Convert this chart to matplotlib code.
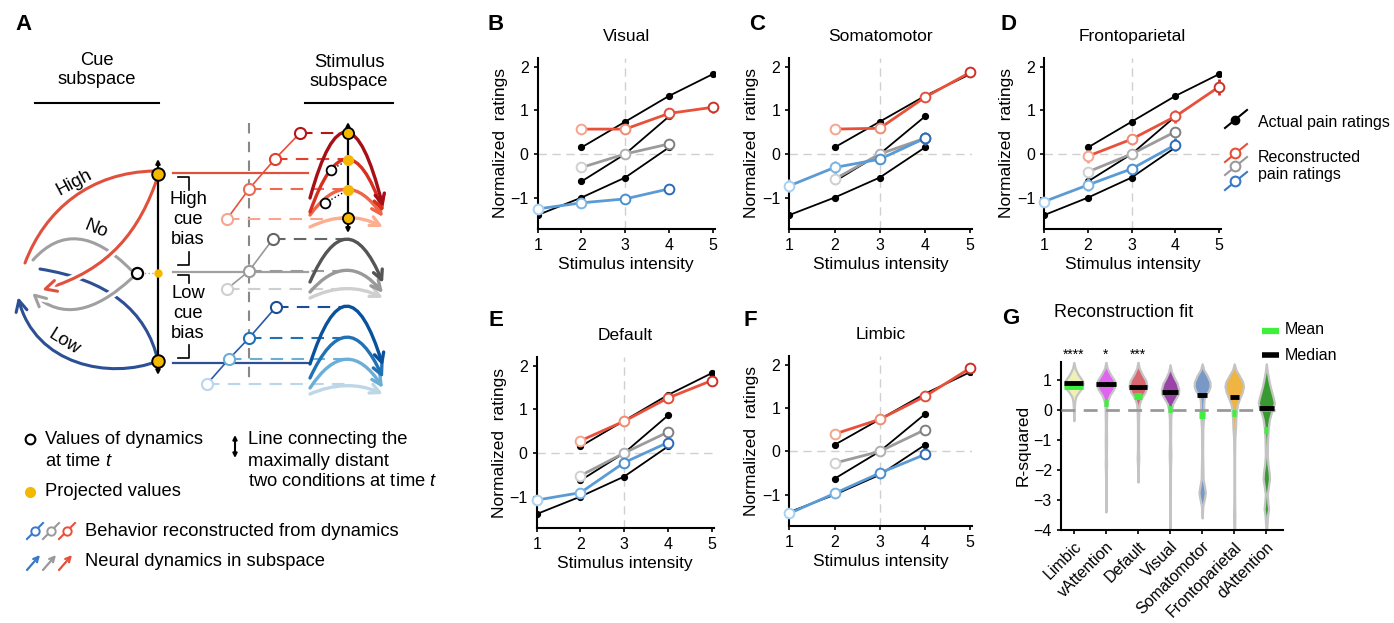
import numpy as np
import matplotlib
matplotlib.use("Agg")
import matplotlib.pyplot as plt
from matplotlib.path import Path
from matplotlib.patches import FancyArrowPatch
import matplotlib.patheffects as pe

plt.rcParams['font.family'] = ['Liberation Sans', 'DejaVu Sans']
plt.rcParams['mathtext.fontset'] = 'custom'
plt.rcParams['mathtext.it'] = 'Liberation Sans:italic'
plt.rcParams['mathtext.rm'] = 'Liberation Sans'

W, H = 1394, 623

# ---------------- data: panels B-F ----------------
intensity = [1, 2, 3, 4, 5]
# actual pain ratings (same in every panel)
actual_high_x = [2, 3, 4, 5]
actual_high = [0.15, 0.74, 1.33, 1.83]
actual_no_x = [2, 3, 4]
actual_no = [-0.63, 0.0, 0.86]
actual_low_x = [1, 2, 3, 4]
actual_low = [-1.40, -1.0, -0.54, 0.15]

high_x = [2, 3, 4, 5]
no_x = [2, 3, 4]
low_x = [1, 2, 3, 4]

networks_line = ['Visual', 'Somatomotor', 'Frontoparietal', 'Default', 'Limbic']
recon_high = {'Visual': [0.57, 0.57, 0.93, 1.07],
              'Somatomotor': [0.57, 0.59, 1.30, 1.87],
              'Frontoparietal': [-0.05, 0.34, 0.86, 1.54],
              'Default': [0.28, 0.73, 1.26, 1.66],
              'Limbic': [0.40, 0.74, 1.27, 1.92]}
recon_high_err = {'Visual': [0.12, 0.12, 0.13, 0.12],
                  'Somatomotor': [0.1, 0.1, 0.08, 0.08],
                  'Frontoparietal': [0.15, 0.12, 0.15, 0.18],
                  'Default': [0.08, 0.08, 0.05, 0.05],
                  'Limbic': [0.03, 0.03, 0.03, 0.03]}
recon_no = {'Visual': [-0.31, 0.0, 0.23],
            'Somatomotor': [-0.58, 0.0, 0.36],
            'Frontoparietal': [-0.41, 0.0, 0.51],
            'Default': [-0.52, 0.0, 0.48],
            'Limbic': [-0.27, 0.0, 0.50]}
recon_no_err = {'Visual': [0.03, 0.03, 0.03],
                'Somatomotor': [0.03, 0.03, 0.03],
                'Frontoparietal': [0.04, 0.04, 0.04],
                'Default': [0.03, 0.03, 0.03],
                'Limbic': [0.02, 0.02, 0.02]}
recon_low = {'Visual': [-1.26, -1.12, -1.03, -0.80],
             'Somatomotor': [-0.73, -0.31, -0.12, 0.36],
             'Frontoparietal': [-1.09, -0.71, -0.34, 0.21],
             'Default': [-1.08, -0.91, -0.22, 0.24],
             'Limbic': [-1.43, -0.97, -0.50, -0.07]}
recon_low_err = {'Visual': [0.08, 0.08, 0.08, 0.08],
                 'Somatomotor': [0.15, 0.15, 0.1, 0.15],
                 'Frontoparietal': [0.1, 0.15, 0.1, 0.15],
                 'Default': [0.1, 0.1, 0.1, 0.1],
                 'Limbic': [0.03, 0.03, 0.03, 0.03]}

# ---------------- data: panel G ----------------
g_networks = ['Limbic', 'vAttention', 'Default', 'Visual', 'Somatomotor',
              'Frontoparietal', 'dAttention']
g_colors = ['#eef0b8', '#e064f0', '#d8666e', '#9a44a8', '#7898c8', '#f0b440', '#3a9a32']
g_median = [0.90, 0.86, 0.79, 0.62, 0.51, 0.43, 0.09]
g_mean = [0.81, 0.23, 0.46, 0.03, -0.16, -0.08, -0.66]
g_median_hw = [0.30, 0.30, 0.28, 0.26, 0.15, 0.14, 0.24]
g_mean_hw = [0.30, 0.07, 0.11, 0.06, 0.09, 0.07, 0.06]
g_stars = ['****', '*', '***', '', '', '', '']
g_prof_y = [
    [1.6, 1.4, 1.2, 1.0, 0.9, 0.75, 0.6, 0.45, 0.3, 0.1, -0.35],
    [1.62, 1.4, 1.2, 1.0, 0.85, 0.7, 0.5, 0.3, 0.1, -0.5, -1.0, -1.5, -1.8, -2.1, -3.4],
    [1.62, 1.4, 1.2, 1.0, 0.8, 0.6, 0.4, 0.2, 0.0, -0.5, -1.3, -1.6, -1.9, -2.4],
    [1.52, 1.3, 1.1, 0.9, 0.7, 0.55, 0.4, 0.2, 0.0, -0.3, -1.0, -1.5, -2.0, -4.0],
    [1.55, 1.35, 1.15, 0.95, 0.8, 0.65, 0.5, 0.35, 0.2, 0.0, -0.3, -0.6, -1.5, -2.3,
     -2.6, -2.75, -2.9, -3.2, -3.6],
    [1.55, 1.35, 1.15, 0.95, 0.8, 0.6, 0.4, 0.2, 0.0, -0.3, -0.6, -0.9, -1.5, -3.0, -3.5, -4.0],
    [1.55, 1.3, 1.0, 0.8, 0.6, 0.4, 0.25, 0.1, -0.1, -0.3, -0.6, -1.0, -1.5, -1.8, -2.1,
     -2.3, -2.5, -2.8, -3.1, -3.3, -3.5, -4.0]]
g_prof_w = [
    [0.0, 0.04, 0.13, 0.26, 0.29, 0.26, 0.15, 0.06, 0.03, 0.015, 0.0],
    [0, 0.04, 0.14, 0.26, 0.30, 0.24, 0.12, 0.05, 0.025, 0.015, 0.02, 0.015, 0.02, 0.012, 0],
    [0, 0.04, 0.13, 0.24, 0.28, 0.22, 0.10, 0.04, 0.025, 0.015, 0.015, 0.025, 0.012, 0],
    [0, 0.04, 0.12, 0.22, 0.27, 0.26, 0.18, 0.08, 0.04, 0.02, 0.015, 0.025, 0.012, 0.008],
    [0, 0.05, 0.16, 0.24, 0.25, 0.20, 0.10, 0.06, 0.05, 0.05, 0.04, 0.02, 0.015, 0.03,
     0.08, 0.10, 0.08, 0.02, 0],
    [0, 0.05, 0.16, 0.26, 0.29, 0.25, 0.17, 0.10, 0.07, 0.05, 0.04, 0.02, 0.012, 0.012, 0.02, 0.012],
    [0, 0.03, 0.08, 0.12, 0.17, 0.22, 0.25, 0.22, 0.15, 0.10, 0.06, 0.04, 0.03, 0.05, 0.09,
     0.10, 0.07, 0.03, 0.05, 0.07, 0.04, 0.01]]

# ---------------- colours ----------------
RED, GRAY, BLUE = '#e8503a', '#9b9b9b', '#5b9bd5'
red_shades = ['#f5a48e', '#f08a72', '#e0503c', '#cc3328']
gray_shades = ['#d0d0d0', '#b0b0b0', '#808080']
blue_shades = ['#a8d0f0', '#7ab4e4', '#4a90d0', '#2a6cb8']

fig = plt.figure(figsize=(W / 100, H / 100), dpi=100)


def px_axes(l, t, r, b):
    return fig.add_axes([l / W, 1 - b / H, (r - l) / W, (b - t) / H])


def style(ax):
    for s in ['top', 'right']:
        ax.spines[s].set_visible(False)
    for s in ['left', 'bottom']:
        ax.spines[s].set_linewidth(1.5)
    ax.tick_params(labelsize=11.5, length=3, width=1.2)


def line_panel(ax, net):
    style(ax)
    ax.axvline(3, color='#d0d0d0', lw=1, ls=(0, (6, 4)), zorder=0)
    ax.axhline(0, color='#d0d0d0', lw=1, ls=(0, (6, 4)), zorder=0)
    for xs, ys in [(actual_high_x, actual_high), (actual_no_x, actual_no), (actual_low_x, actual_low)]:
        ax.plot(xs, ys, color='black', lw=1.3, marker='o', ms=4.2, zorder=2)
    for xs, ys, es, col, shades in [(no_x, recon_no[net], recon_no_err[net], GRAY, gray_shades),
                                    (low_x, recon_low[net], recon_low_err[net], BLUE, blue_shades),
                                    (high_x, recon_high[net], recon_high_err[net], RED, red_shades)]:
        ax.plot(xs, ys, color=col, lw=2, zorder=3)
        for xi, yi, ei, c in zip(xs, ys, es, shades):
            ax.errorbar(xi, yi, yerr=ei, fmt='o', mfc='white', mec=c, ecolor=c, ms=7,
                        mew=1.4, elinewidth=2, capsize=0, zorder=4, clip_on=False)
    ax.set_xlim(1, 5.04)
    ax.set_ylim(-1.72, 2.2)
    ax.set_xticks(intensity)
    ax.set_yticks([-1, 0, 1, 2])
    ax.set_yticklabels(['\u22121', '0', '1', '2'])
    ax.set_title(net, fontsize=12.5, pad=12)
    ax.set_xlabel('Stimulus intensity', fontsize=12.5, labelpad=3)
    ax.set_ylabel('Normalized  ratings', fontsize=12.5, labelpad=2)


axB = px_axes(537.7, 58, 714.5, 229)
axC = px_axes(789.3, 58, 972.0, 229)
axD = px_axes(1044.3, 58, 1220.8, 229)
axE = px_axes(536.7, 357, 713.5, 528)
axF = px_axes(789.3, 356, 972.0, 526)
for ax, net in zip([axB, axC, axD, axE, axF], networks_line):
    line_panel(ax, net)

# ---------------- panel G ----------------
axG = px_axes(1061, 361.7, 1283, 530)
style(axG)
pos = np.arange(len(g_networks))
for p, col, yy, ww in zip(pos, g_colors, g_prof_y, g_prof_w):
    yy = np.array(yy)
    ww = np.array(ww)
    axG.fill_betweenx(yy, p - ww, p + ww, facecolor=col, edgecolor='#c4c4c4', lw=1.6, zorder=2)
axG.axhline(0, color='#999999', lw=2, ls=(0, (5, 3)), zorder=3)
for p, m, hw in zip(pos, g_mean, g_mean_hw):
    axG.plot([p - hw, p + hw], [m, m], color='#3cf03c', lw=5, solid_capstyle='butt', zorder=4)
for p, m, hw in zip(pos, g_median, g_median_hw):
    axG.plot([p - hw, p + hw], [m, m], color='black', lw=3.5, solid_capstyle='butt', zorder=5)
for p, s in zip(pos, g_stars):
    if s:
        axG.text(p, 1.85, s, ha='center', va='center', fontsize=10, clip_on=False)
axG.set_xlim(-0.4, 6.52)
axG.set_ylim(-4, 1.62)
axG.set_yticks([-4, -3, -2, -1, 0, 1])
axG.set_yticklabels(['\u22124', '\u22123', '\u22122', '\u22121', '0', '1'])
axG.set_xticks(pos)
axG.set_xticklabels(g_networks, rotation=45, ha='right', rotation_mode='anchor')
axG.set_ylabel('R-squared', fontsize=12.5, labelpad=2)
axG.text(-0.03, 1.29, 'Reconstruction fit', transform=axG.transAxes, fontsize=13,
         ha='left', va='center')

# ---------------- overlay: panel A, labels, legends ----------------
ov = fig.add_axes([0, 0, 1, 1])
ov.set_xlim(0, W)
ov.set_ylim(H, 0)
ov.axis('off')

for lab, (x, y) in zip('ABCDEFG', [(23, 24), (496, 24), (757, 24), (1008, 24),
                                   (496, 320), (750, 320), (1011, 318)]):
    ov.text(x, y, lab, fontsize=16, fontweight='bold', ha='center', va='center')

FS = 13.2
ov.text(97, 70, 'Cue\nsubspace', ha='center', va='center', fontsize=FS, linespacing=1.1)
ov.text(349, 72, 'Stimulus\nsubspace', ha='center', va='center', fontsize=FS, linespacing=1.1)
ov.plot([35, 159], [103, 103], color='black', lw=1.5)
ov.plot([305, 393], [103, 103], color='black', lw=1.5)

A_RED, A_GRAY, A_BLUE = '#e0503c', '#a0a0a0', '#2d4f94'
M3 = [Path.MOVETO, Path.CURVE3, Path.CURVE3]
M4 = [Path.MOVETO, Path.CURVE4, Path.CURVE4, Path.CURVE4]
halo = [pe.withStroke(linewidth=6, foreground='white')]


def curve(pts, color, lw=2.2, arrow=True, z=2, effects=None, ms=16):
    codes = M3 if len(pts) == 3 else M4
    a = FancyArrowPatch(path=Path(pts, codes), arrowstyle='->' if arrow else '-',
                        mutation_scale=ms, lw=lw, color=color, shrinkA=0, shrinkB=0,
                        zorder=z, capstyle='round')
    if effects:
        a.set_path_effects(effects)
    ov.add_patch(a)


# cue subspace curves
curve([(40, 269), (141, 285), (158, 361)], A_BLUE, arrow=False, z=1)
curve([(158, 361), (110, 380), (35, 365), (18, 297)], A_BLUE, z=1, ms=20)
curve([(33, 260), (75, 213), (131, 270)], A_GRAY, arrow=False, z=2, effects=halo)
curve([(132, 278), (75, 331), (32, 293)], A_GRAY, z=2, effects=halo, ms=20)
curve([(25, 263), (45, 210), (90, 172), (155, 171)], A_RED, arrow=False, z=3)
curve([(158, 176), (140, 230), (110, 270), (42, 290)], A_RED, z=3, effects=halo, ms=20)
ov.text(74, 183, 'High', rotation=28, ha='center', va='center', fontsize=FS)
ov.text(96, 229, 'No', rotation=-22, ha='center', va='center', fontsize=FS)
ov.text(64, 342, 'Low', rotation=-32, ha='center', va='center', fontsize=FS)

# cue axis
ov.add_patch(FancyArrowPatch((158, 159), (158, 375), arrowstyle='<|-|>', mutation_scale=6,
                             lw=1.6, color='black', shrinkA=0, shrinkB=0, zorder=4))
ov.plot([137, 158], [273, 273], color='#aaaaaa', lw=1, ls=':', zorder=4)
ov.plot([137], [273], 'o', ms=8, mfc='white', mec='black', mew=1.6, zorder=5)
ov.plot([158], [273], 'o', ms=5, color='#f5b800', zorder=5)
ov.plot([158, 158], [174, 361], 'o', ms=9, mfc='#f5b800', mec='black', mew=1.4, ls='none', zorder=5)

# horizontal links
for y, c in [(173, A_RED), (272, A_GRAY), (363, A_BLUE)]:
    ov.plot([173, 308], [y, y], color=c, lw=1.6, zorder=1)

# brackets and bias text
for t0, t1, b0, b1 in [(177, 190, 252, 265), (275, 283, 345, 358)]:
    ov.plot([178, 189, 189], [t0, t0, t1], color='black', lw=1.2)
    ov.plot([189, 189, 178], [b0, b1, b1], color='black', lw=1.2)
for ys, words in [([200, 220, 239], ['High', 'cue', 'bias']), ([294, 314, 333], ['Low', 'cue', 'bias'])]:
    for y, w in zip(ys, words):
        ov.text(188, y, w, ha='center', va='center', fontsize=FS)

ov.plot([249, 249], [123, 382], color='#888888', lw=1.5, ls=(0, (5, 4)), zorder=1)

# reconstructed behaviour schematic
sch_red_x = [227, 249, 275, 300]
sch_red_y = [219, 189, 159, 133]
sch_red_c = ['#f7a58f', '#ee6a50', '#e0402e', '#b5161a']
sch_gray_x = [227, 249, 273]
sch_gray_y = [289, 271, 239]
sch_gray_c = ['#cfcfcf', '#9a9a9a', '#666666']
sch_blue_x = [207, 229, 249, 276]
sch_blue_y = [384, 359, 338, 307]
sch_blue_c = ['#b9d6ee', '#6baed6', '#2171b5', '#1a4f98']
for xs, ys, cs, lc in [(sch_red_x, sch_red_y, sch_red_c, '#e8503a'),
                       (sch_gray_x, sch_gray_y, sch_gray_c, '#999999'),
                       (sch_blue_x, sch_blue_y, sch_blue_c, '#2a5aa8')]:
    ov.plot(xs, ys, color=lc, lw=1.2, zorder=2)
    for x, y, c in zip(xs, ys, cs):
        ov.plot([x, 347], [y, y], color=c, lw=1.5, ls=(0, (6, 4)), zorder=1)
        ov.plot([x], [y], 'o', ms=8, mfc='white', mec=c, mew=1.5, zorder=3)

# stimulus subspace arcs: (start y, peak y, end y)
arc_red = [(227, 218, 227), (215, 190, 217), (212, 160, 212), (198, 133, 207)]
arc_red_c = ['#fcae91', '#ef6548', '#d7301f', '#a50f15']
arc_gray = [(298, 289, 298), (292, 271, 293), (282, 240, 283)]
arc_gray_c = ['#cfcfcf', '#999999', '#555555']
arc_blue = [(394, 386, 394), (388, 360, 388), (378, 338, 378), (364, 307, 366)]
arc_blue_c = ['#bdd7e7', '#6baed6', '#2171b5', '#08519c']
for arcs, cols in [(arc_red, arc_red_c), (arc_gray, arc_gray_c), (arc_blue, arc_blue_c)]:
    for (s, p, e), c in zip(arcs, cols):
        curve([(310, s), (347, 2 * p - (s + e) / 2), (383, e)], c, lw=2.4, z=2, ms=17)

ov.add_patch(FancyArrowPatch((348, 122), (348, 233), arrowstyle='<|-|>', mutation_scale=6,
                             lw=1.6, color='black', shrinkA=0, shrinkB=0, zorder=4))
ov.plot([331, 348], [170, 160], color='black', lw=1, ls=':', zorder=4)
ov.plot([325, 348], [203, 190], color='black', lw=1, ls=':', zorder=4)
ov.plot([331, 325], [170, 203], 'o', ms=7, mfc='white', mec='black', mew=1.3, ls='none', zorder=5)
ov.plot([348, 348], [160, 190], 'o', ms=7, color='#f5b800', ls='none', zorder=5)
ov.plot([348, 348], [133, 218], 'o', ms=8, mfc='#f5b800', mec='black', mew=1.3, ls='none', zorder=5)

# panel A legend
ov.plot([30], [439], 'o', ms=7, mfc='white', mec='black', mew=1.5)
ov.text(45, 440, 'Values of dynamics', va='center', fontsize=FS)
ov.text(45, 461, 'at time $t$', va='center', fontsize=FS)
ov.plot([30], [492], 'o', ms=7, color='#f5b800')
ov.text(45, 492, 'Projected values', va='center', fontsize=FS)
ov.add_patch(FancyArrowPatch((235, 435), (235, 458), arrowstyle='<|-|>', mutation_scale=6,
                             lw=1.5, color='black', shrinkA=0, shrinkB=0))
ov.text(248, 440, 'Line connecting the', va='center', fontsize=FS)
ov.text(248, 461, 'maximally distant', va='center', fontsize=FS)
ov.text(248, 482, 'two conditions at time $t$', va='center', fontsize=FS)
for x0, c in [(27, '#3a78c8'), (43, '#999999'), (59, '#e8503a')]:
    ov.plot([x0, x0 + 16], [539, 523], color=c, lw=1.5)
    ov.plot([x0 + 8], [531], 'o', ms=6, mfc='white', mec=c, mew=1.4)
    ov.add_patch(FancyArrowPatch((x0, 570), (x0 + 13, 555), arrowstyle='->', mutation_scale=9,
                                 lw=1.6, color=c, shrinkA=0, shrinkB=0))
ov.text(85, 531, 'Behavior reconstructed from dynamics', va='center', fontsize=FS)
ov.text(85, 562, 'Neural dynamics in subspace', va='center', fontsize=FS)

# panel D legend
ov.plot([1225, 1247], [128, 110], color='black', lw=1.5)
ov.plot([1235], [120], 'o', ms=6, color='black')
ov.text(1258, 122, 'Actual pain ratings', va='center', fontsize=11.5)
for y0, c in [(162, '#e8503a'), (175, '#999999'), (190, '#3a78c8')]:
    ov.plot([1225, 1247], [y0, y0 - 18], color=c, lw=1.5)
    ov.plot([1235], [y0 - 9], 'o', ms=7, mfc='white', mec=c, mew=1.5)
ov.text(1258, 158, 'Reconstructed', va='center', fontsize=11.5)
ov.text(1258, 175, 'pain ratings', va='center', fontsize=11.5)

# panel G legend
ov.plot([1262, 1279], [331, 331], color='#3cf03c', lw=4.5, solid_capstyle='butt')
ov.text(1285, 330, 'Mean', va='center', fontsize=11.5)
ov.plot([1262, 1279], [355, 355], color='black', lw=4, solid_capstyle='butt')
ov.text(1285, 355, 'Median', va='center', fontsize=11.5)

fig.savefig('out.png', dpi=100)
